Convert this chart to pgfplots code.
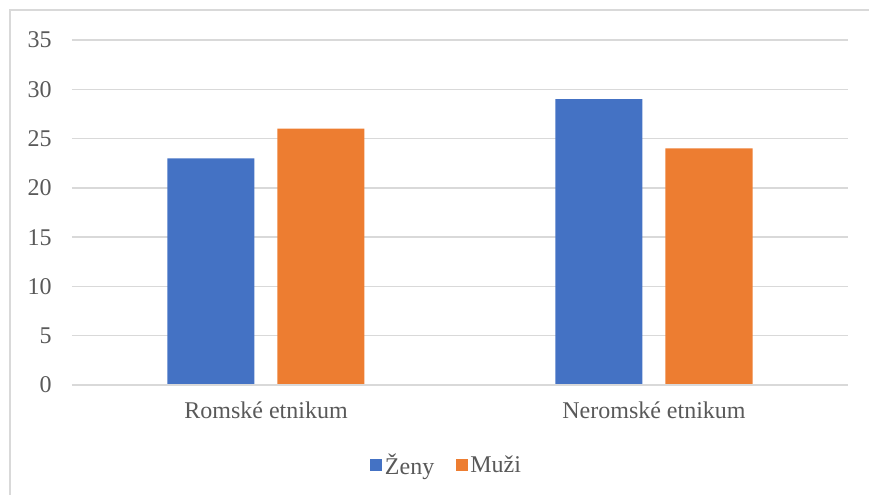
\documentclass[border=0pt]{standalone}
\usepackage{fontspec}
\setmainfont{Liberation Serif}
\usepackage{pgfplots}
\pgfplotsset{compat=1.18}
\definecolor{cBlue}{HTML}{4472C4}
\definecolor{cOrange}{HTML}{ED7D31}
\definecolor{cGrid}{HTML}{D9D9D9}
\definecolor{cText}{HTML}{595959}

\begin{document}
\begin{tikzpicture}
% picture frame: 869x495 px at 0.75pt per px, axis origin at px (72,385)
\useasboundingbox (-54pt,-82.5pt) rectangle (597.75pt,288.75pt);
\draw[cGrid, line width=1pt] (-46.5pt,-82.5pt) -- (-46.5pt,281.25pt) -- (597.75pt,281.25pt);
\begin{axis}[
  at={(0pt,0pt)}, anchor=south west,
  scale only axis,
  width=582pt, height=258.75pt,
  ybar=17.25pt, bar width=65.25pt,
  xmin=-0.5, xmax=1.5,
  ymin=0, ymax=35,
  xtick={0,1},
  xticklabels={Romské etnikum, Neromské etnikum},
  ytick={0,5,...,35},
  axis line style={draw=none},
  axis x line*=bottom,
  major tick length=0pt,
  ymajorgrids=true,
  grid style={cGrid, line width=1pt},
  /pgf/number format/assume math mode=true,
  ticklabel style={font=\fontsize{18}{21}\selectfont, text=cText, inner sep=0pt},
  yticklabel style={anchor=base east, xshift=-15pt, yshift=-6pt},
  xticklabel style={anchor=base, yshift=-25.5pt},
  legend style={at={(0.4832,-0.232)}, anchor=center, draw=none, fill=none,
    font=\fontsize{18}{21}\selectfont, text=cText,
    legend columns=2,
    /tikz/every even column/.append style={column sep=14pt}},
  legend image code/.code={\fill[#1] (0pt,-4.5pt) rectangle (9pt,4.5pt);},
]
\addplot[fill=cBlue, draw=none] coordinates {(0,23) (1,29)};
\addlegendentry{Ženy}
\addplot[fill=cOrange, draw=none] coordinates {(0,26) (1,24)};
\addlegendentry{Muži}
\draw[cGrid, line width=1pt] (rel axis cs:0,0) -- (rel axis cs:1,0);
\end{axis}
\end{tikzpicture}
\end{document}
